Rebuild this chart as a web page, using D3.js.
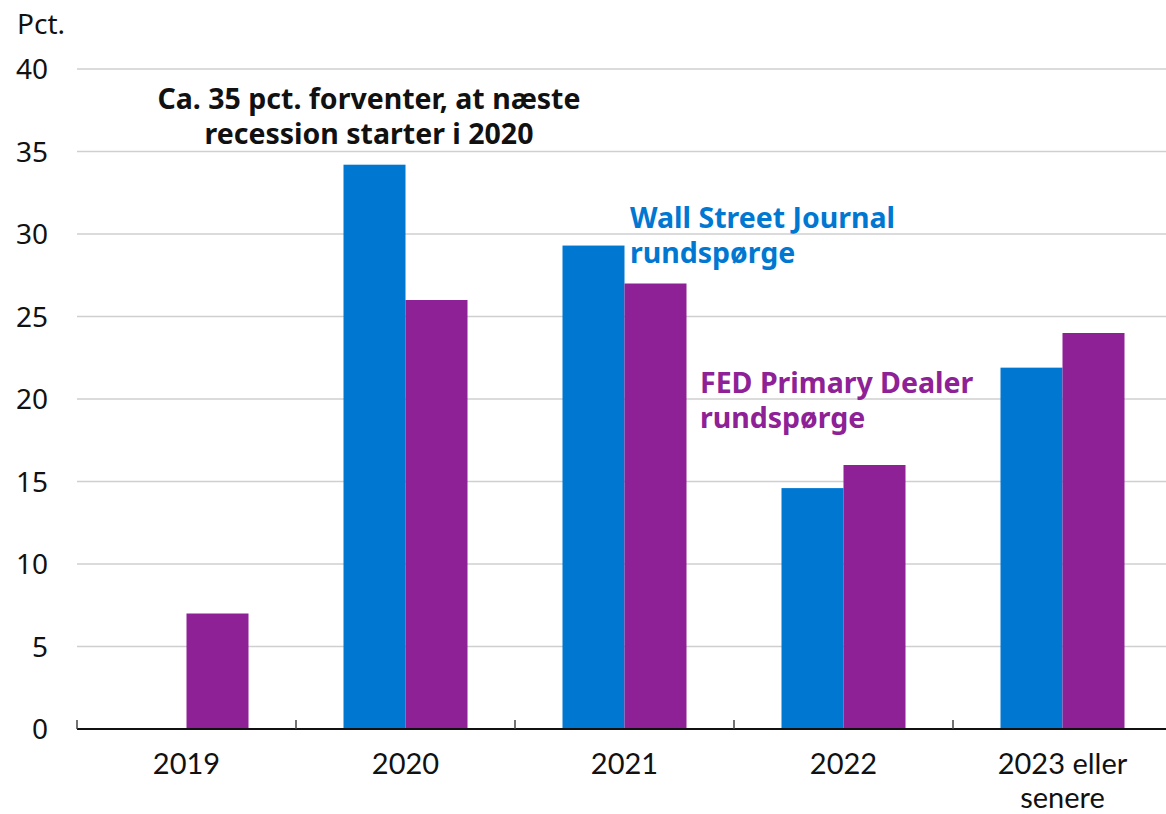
<!DOCTYPE html>
<html>
<head>
<meta charset="utf-8">
<script src="https://cdn.jsdelivr.net/npm/d3@7"></script>
<style>
  body { margin: 0; background: #fff; }
  svg { display: block; font-family: "Noto Sans", "Open Sans", sans-serif; }
</style>
</head>
<body>
<script>
// data
var categories = ["2019", "2020", "2021", "2022", "2023 eller\nsenere"];
var wsj = [0, 34.2, 29.3, 14.6, 21.9];
var fed = [7, 26, 27, 16, 24];
var yTicks = [0, 5, 10, 15, 20, 25, 30, 35, 40];

var width = 1166, height = 814;
var blue = "#0078d2", purple = "#8e2196";

var svg = d3.select("body").append("svg")
  .attr("width", width)
  .attr("height", height);

var x = d3.scaleBand()
  .domain(categories)
  .range([77, 77 + 5 * 219]);

var y = d3.scaleLinear()
  .domain([0, 40])
  .range([729, 69]);

// gridlines
svg.append("g")
  .selectAll("line")
  .data(yTicks.filter(function (d) { return d > 0; }))
  .enter().append("line")
  .attr("x1", 77).attr("x2", width)
  .attr("y1", function (d) { return y(d); })
  .attr("y2", function (d) { return y(d); })
  .attr("stroke", "#cfcfcf")
  .attr("stroke-width", 1.5);

// y labels
svg.append("g")
  .selectAll("text")
  .data(yTicks)
  .enter().append("text")
  .attr("x", 48)
  .attr("y", function (d) { return y(d); })
  .attr("dy", "0.36em")
  .attr("text-anchor", "end")
  .attr("font-size", 28)
  .attr("fill", "#111")
  .text(function (d) { return d; });

svg.append("text")
  .attr("x", 17).attr("y", 34)
  .attr("font-size", 28)
  .attr("fill", "#111")
  .text("Pct.");

// bars
var barW = 62;
var rows = categories.map(function (c, i) { return { cat: c, wsj: wsj[i], fed: fed[i] }; });
var grp = svg.append("g").selectAll("g")
  .data(rows)
  .enter().append("g");

grp.filter(function (d) { return d.wsj > 0; })
  .append("rect")
  .attr("x", function (d) { return x(d.cat) + x.bandwidth() / 2 - barW; })
  .attr("y", function (d) { return y(d.wsj); })
  .attr("width", barW)
  .attr("height", function (d) { return y(0) - y(d.wsj); })
  .attr("fill", blue);

grp.append("rect")
  .attr("x", function (d) { return x(d.cat) + x.bandwidth() / 2; })
  .attr("y", function (d) { return y(d.fed); })
  .attr("width", barW)
  .attr("height", function (d) { return y(0) - y(d.fed); })
  .attr("fill", purple);

// x axis
var xAxis = svg.append("g");
xAxis.append("line")
  .attr("x1", 77).attr("x2", width)
  .attr("y1", y(0)).attr("y2", y(0))
  .attr("stroke", "#111").attr("stroke-width", 2);

xAxis.selectAll(".tk")
  .data(categories)
  .enter().append("line")
  .attr("class", "tk")
  .attr("x1", function (d) { return x(d); })
  .attr("x2", function (d) { return x(d); })
  .attr("y1", y(0) - 9).attr("y2", y(0))
  .attr("stroke", "#444").attr("stroke-width", 1.5);

// one text element per label line (Lato has tighter line metrics for the 2-line label)
categories.forEach(function (d) {
  d.split("\n").forEach(function (line, i) {
    xAxis.append("text")
      .attr("x", x(d) + x.bandwidth() / 2)
      .attr("y", 774 + i * 34)
      .attr("text-anchor", "middle")
      .attr("font-family", "Lato, 'Noto Sans', sans-serif")
      .attr("font-size", 29)
      .attr("fill", "#111")
      .text(line);
  });
});

// annotations
function note(lines, xp, yp, anchor, color) {
  lines.forEach(function (l, i) {
    svg.append("text")
      .attr("x", xp).attr("y", yp + i * 35)
      .attr("text-anchor", anchor)
      .attr("font-size", 28.5)
      .attr("font-weight", "bold")
      .attr("fill", color)
      .text(l);
  });
}

note(["Ca. 35 pct. forventer, at næste", "recession starter i 2020"], 369, 109, "middle", "#111");
note(["Wall Street Journal", "rundspørge"], 630, 228, "start", blue);
note(["FED Primary Dealer", "rundspørge"], 700, 393, "start", purple);
</script>
</body>
</html>
